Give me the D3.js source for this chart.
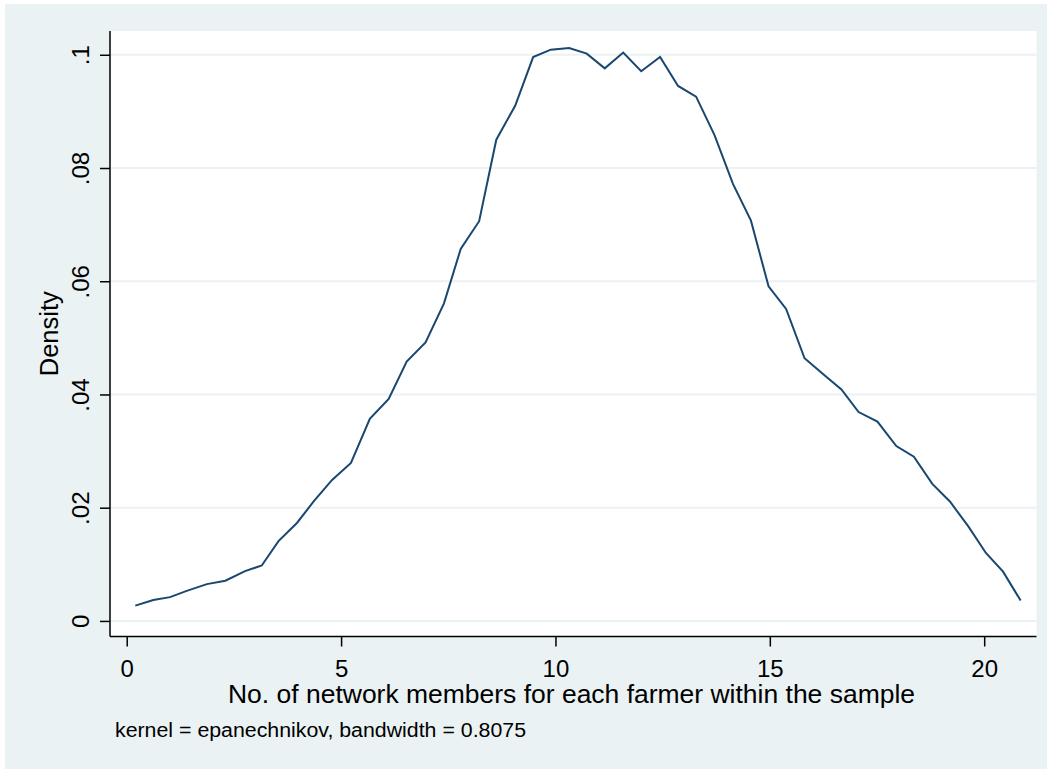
<!DOCTYPE html>
<html>
<head>
<meta charset="utf-8">
<script src="https://cdn.jsdelivr.net/npm/d3@7"></script>
<style>
  body { margin: 0; background: #fff; }
  text { font-family: "Liberation Sans", Arial, sans-serif; fill: #000; }
</style>
</head>
<body>
<script>
// kernel density estimate
var xs = [0.2, 0.62, 1.01, 1.4, 1.87, 2.3, 2.76, 3.15, 3.54, 3.97,
          4.36, 4.79, 5.23, 5.67, 6.11, 6.53, 6.97, 7.4, 7.79, 8.22,
          8.62, 9.06, 9.48, 9.89, 10.32, 10.73, 11.15, 11.58, 12.0, 12.44,
          12.86, 13.28, 13.71, 14.14, 14.56, 14.97, 15.38, 15.81, 16.24, 16.67,
          17.07, 17.51, 17.95, 18.36, 18.79, 19.2, 19.63, 20.04, 20.44, 20.85];
var density = [.0027, .0037, .0042, .0053, .0065, .0071, .0088, .0098, .0141, .0173,
               .0211, .0249, .0279, .0357, .0392, .0458, .0492, .0561, .0657, .0706,
               .0850, .0910, .0996, .1009, .1012, .1002, .0976, .1004, .0971, .0996,
               .0945, .0926, .0858, .0772, .0707, .0591, .0551, .0464, .0436, .0409,
               .0369, .0352, .0309, .0290, .0242, .0211, .0167, .0120, .0087, .0036];
var xTicks = [0, 5, 10, 15, 20];
var yTicks = [0, .02, .04, .06, .08, .1];
var yTickLabels = ["0", ".02", ".04", ".06", ".08", ".1"];

var width = 1051,
    height = 769;

var plot = {left: 110, right: 1036.5, top: 31, bottom: 636.5};

var svg = d3.select("body").append("svg")
    .attr("width", width)
    .attr("height", height);

// outer grey panel
svg.append("rect")
    .attr("x", 5).attr("y", 4)
    .attr("width", 1042).attr("height", 765)
    .attr("fill", "#eaf2f3");

svg.append("rect")
    .attr("x", plot.left).attr("y", plot.top)
    .attr("width", plot.right - plot.left).attr("height", plot.bottom - plot.top)
    .attr("fill", "#fff");

var x = d3.scaleLinear()
    .domain([-0.39, 21.22])
    .range([plot.left, plot.right]);

var y = d3.scaleLinear()
    .domain([-0.00275, 0.1042])
    .range([plot.bottom, plot.top]);

// gridlines
svg.append("g")
    .selectAll("line")
    .data(yTicks)
    .enter()
    .append("line")
    .attr("x1", plot.left).attr("x2", plot.right)
    .attr("y1", d => y(d)).attr("y2", d => y(d))
    .attr("stroke", "#eaf2f3")
    .attr("stroke-width", 2);

var xAxis = svg.append("g")
    .attr("transform", "translate(0," + plot.bottom + ")")
    .call(d3.axisBottom(x).tickValues(xTicks).tickSize(10).tickSizeOuter(0).tickPadding(0));
xAxis.select(".domain").remove();
xAxis.append("line")
    .attr("x1", plot.left).attr("x2", plot.right)
    .attr("stroke", "#000").attr("stroke-width", 1.5);
xAxis.selectAll(".tick line").attr("stroke", "#000").attr("stroke-width", 1.5);
xAxis.selectAll(".tick text")
    .attr("dy", null)
    .attr("y", 40.5)
    .style("font-size", "24px")
    .attr("fill", "#000");

var yAxis = svg.append("g")
    .attr("transform", "translate(" + plot.left + ",0)")
    .call(d3.axisLeft(y).tickValues(yTicks).tickFormat((d, i) => yTickLabels[i]).tickSize(10).tickSizeOuter(0));
yAxis.select(".domain").remove();
yAxis.append("line")
    .attr("y1", plot.top).attr("y2", plot.bottom)
    .attr("stroke", "#000").attr("stroke-width", 1.5);
yAxis.selectAll(".tick line").attr("stroke", "#000").attr("stroke-width", 1.5);
yAxis.selectAll(".tick text")
    .attr("x", null).attr("dy", null)
    .attr("text-anchor", "middle")
    .attr("transform", "translate(-21,0) rotate(-90)")
    .style("font-size", "24px")
    .attr("fill", "#000");

var line = d3.line()
    .x(d => x(d[0]))
    .y(d => y(d[1]));

svg.append("path")
    .datum(d3.zip(xs, density))
    .attr("d", line)
    .attr("fill", "none")
    .attr("stroke", "#1a476f")
    .attr("stroke-width", 2)
    .attr("stroke-linejoin", "miter");

// titles, stretched a bit to the width of the original's wider face
svg.append("text")
    .attr("x", 571.5)
    .attr("y", 703)
    .attr("text-anchor", "middle")
    .attr("textLength", 687)
    .attr("lengthAdjust", "spacingAndGlyphs")
    .style("font-size", "25.5px")
    .text("No. of network members for each farmer within the sample");

svg.append("text")
    .attr("transform", "translate(58," + ((plot.top + plot.bottom) / 2) + ") rotate(-90)")
    .attr("text-anchor", "middle")
    .attr("textLength", 85)
    .attr("lengthAdjust", "spacingAndGlyphs")
    .style("font-size", "25.5px")
    .text("Density");

svg.append("text")
    .attr("x", 115)
    .attr("y", 737)
    .attr("textLength", 411)
    .attr("lengthAdjust", "spacingAndGlyphs")
    .style("font-size", "19.5px")
    .text("kernel = epanechnikov, bandwidth = 0.8075");
</script>
</body>
</html>
